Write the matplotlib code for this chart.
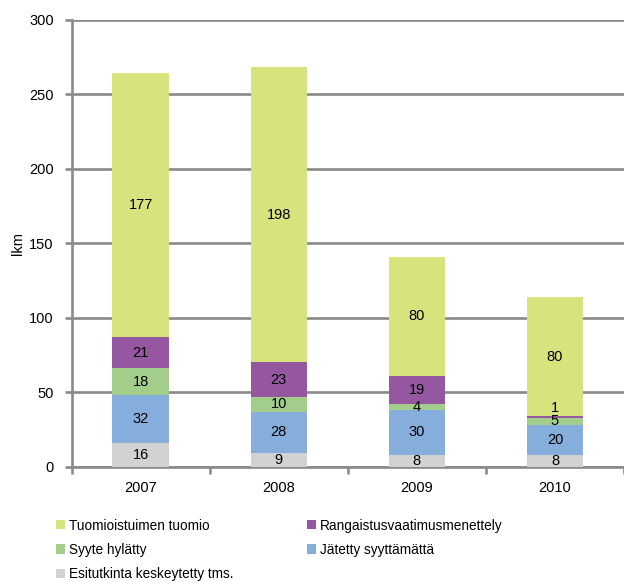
import matplotlib.pyplot as plt
import numpy as np

plt.rcParams['font.family'] = ['Liberation Sans', 'DejaVu Sans']

years = ['2007', '2008', '2009', '2010']
esitutkinta = [16, 9, 8, 8]
jatetty = [32, 28, 30, 20]
syyte = [18, 10, 4, 5]
rangaistus = [21, 23, 19, 1]
tuomio = [177, 198, 80, 80]

series = [
    ('Esitutkinta keskeytetty tms.', esitutkinta, '#D2D2D3'),
    ('Jätetty syyttämättä', jatetty, '#86AEDC'),
    ('Syyte hylätty', syyte, '#A2CD8A'),
    ('Rangaistusvaatimusmenettely', rangaistus, '#9558A0'),
    ('Tuomioistuimen tuomio', tuomio, '#D7E37D'),
]

fig = plt.figure(figsize=(6.24, 5.82), dpi=100)
ax = fig.add_axes([0.115, 0.198, 0.885, 0.768])

x = np.arange(len(years))
bottom = np.zeros(len(years))
bars = {}
for name, vals, col in series:
    b = ax.bar(x, vals, 0.41, bottom=bottom, color=col, label=name, zorder=3)
    bars[name] = b
    for xi, v, bt in zip(x, vals, bottom):
        if v < 3:
            ax.text(xi, bt + v + 1, str(v), ha='center', va='bottom', fontsize=10.5, zorder=4)
        else:
            ax.text(xi, bt + v / 2, str(v), ha='center', va='center', fontsize=10.5, zorder=4)
    bottom += np.array(vals)

gc = '#8A8A8A'
ax.set_ylim(0, 300)
ax.set_xlim(-0.5, len(years) - 0.5)
ax.set_yticks(range(0, 301, 50))
ax.yaxis.grid(True, color=gc, linewidth=1.9, zorder=0)
ax.set_axisbelow(True)
ax.set_xticks(x)
ax.set_xticklabels(years)
ax.set_xticks(np.arange(-0.5, len(years), 1), minor=True)
ax.tick_params(axis='x', which='major', length=0, pad=10, labelsize=10.5)
ax.tick_params(axis='x', which='minor', length=5, width=1.9, color=gc)
ax.tick_params(axis='y', length=5, width=1.9, color=gc, labelsize=10.5, pad=8)
for s in ['top', 'right']:
    ax.spines[s].set_visible(False)
for s in ['left', 'bottom']:
    ax.spines[s].set_color(gc)
    ax.spines[s].set_linewidth(1.9)
ax.set_ylabel('lkm', fontsize=10.5, labelpad=3)

order = ['Tuomioistuimen tuomio', 'Syyte hylätty', 'Esitutkinta keskeytetty tms.',
         'Rangaistusvaatimusmenettely', 'Jätetty syyttämättä']
handles = [bars[n] for n in order]
fig.legend(handles, order, loc='upper left', bbox_to_anchor=(0.07, 0.13), ncol=2,
           frameon=False, fontsize=9.8, handlelength=0.65, handleheight=0.65,
           handletextpad=0.3, columnspacing=5.4, labelspacing=0.75)

fig.savefig('out.png', dpi=100)
